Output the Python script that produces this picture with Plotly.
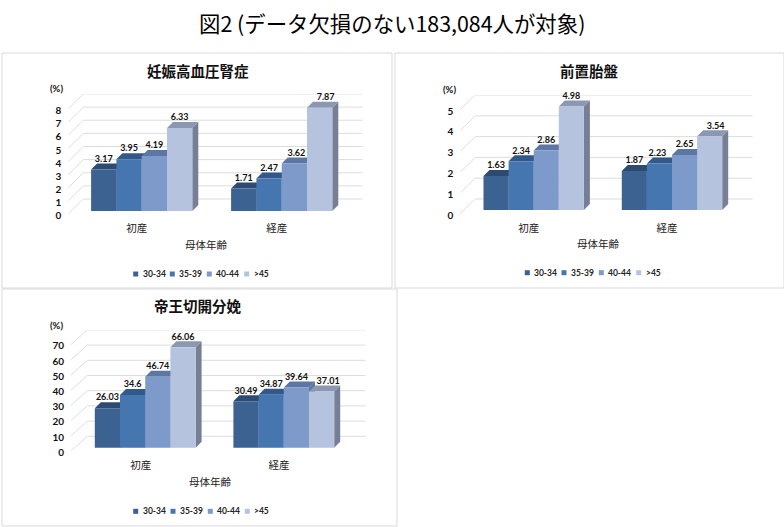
import plotly.graph_objects as go

# ---------- data ----------
categories = ["初産", "経産"]
series_names = ["30-34", "35-39", "40-44", ">45"]
hypertension = [[3.17, 1.71], [3.95, 2.47], [4.19, 3.62], [6.33, 7.87]]
placenta = [[1.63, 1.87], [2.34, 2.23], [2.86, 2.65], [4.98, 3.54]]
cesarean = [[26.03, 30.49], [34.6, 34.87], [46.74, 39.64], [66.06, 37.01]]
hypertension_ticks = [0, 1, 2, 3, 4, 5, 6, 7, 8]
placenta_ticks = [0, 1, 2, 3, 4, 5]
cesarean_ticks = [0, 10, 20, 30, 40, 50, 60, 70]
main_title = "図2 (データ欠損のない183,084人が対象)"
unit_label = "(%)"
axis_label = "母体年齢"

# ---------- style ----------
W, H = 784, 527
FRONT = ["#3C6291", "#4676B0", "#7D9ACB", "#B5C3DE"]
TOP = ["#2C4A72", "#33598A", "#5C77A3", "#8C98B2"]
SIDE = ["#2F4C70", "#365C8A", "#5F77A0", "#767F96"]
GRID = "#DDDDDD"
FRAME = "#D9D9D9"
SANS = "Lato, 'Noto Sans CJK JP'"
CJK = "'Noto Sans CJK JP'"

panels = [
    dict(title="妊娠高血圧腎症", values=hypertension, ticks=hypertension_ticks,
         left=68.3, right=362.7, y0=215.7, unit=13.13, back=16.7, corner=1.7, base=4.7,
         wall=15.0, g0=141.7, g1=281.7, bw=25.3, depth=6.0,
         title_xy=(198, 70), unit_xy=(56.7, 88.3), axis_xy=(206.7, 244.3),
         cat_px=(136.7, 276.7), legend_x=(135.7, 172.3, 209.3, 246.7), legend_y=274,
         shifts=(0, 0, 0, 0, 0, 2, 0, 6), frame=(2, 53, 392, 288)),
    dict(title="前置胎盤", values=placenta, ticks=placenta_ticks,
         left=460.3, right=752.7, y0=215.0, unit=20.8, back=16.0, corner=1.3, base=5.0,
         wall=15.0, g0=533.7, g1=672.0, bw=25.1, depth=6.0,
         title_xy=(589.3, 70), unit_xy=(449, 89), axis_xy=(598, 243.7),
         cat_px=(528.7, 667), legend_x=(527.3, 564, 601.3, 638.7), legend_y=272.7,
         shifts=(0, 0, 0, -2, 0, 0, 0, 6), frame=(395, 53, 784, 288)),
    dict(title="帝王切開分娩", values=cesarean, ticks=cesarean_ticks,
         left=71.0, right=365.7, y0=452.3, unit=1.52, back=16.0, corner=1.3, base=4.6,
         wall=16.3, g0=145.2, g1=283.8, bw=25.2, depth=6.0,
         title_xy=(198, 305.7), unit_xy=(56, 325), axis_xy=(210, 481.3),
         cat_px=(140.7, 279), legend_x=(135.7, 173, 210.3, 247.3), legend_y=511.3,
         shifts=(0, 0, 0, 0, 0, 0, 0, 6.5), frame=(2, 289, 397, 526)),
]

fig = go.Figure()
layout = dict(
    width=W, height=H, autosize=False,
    margin=dict(l=0, r=0, t=0, b=0, pad=0, autoexpand=False),
    paper_bgcolor="white", plot_bgcolor="rgba(0,0,0,0)", showlegend=False,
    shapes=[], annotations=[],
)


def note(text, x, y, size, family=CJK, color="#111111", bold=False, xanchor="center"):
    layout["annotations"].append(dict(
        text=f"<b>{text}</b>" if bold else text, x=x / W, y=1 - y / H,
        xref="paper", yref="paper", xanchor=xanchor, yanchor="middle",
        showarrow=False, font=dict(family=family, size=size, color=color),
    ))


note(main_title, 392, 22, 21.4, color="#000000")

for i, p in enumerate(panels):
    suffix = "" if i == 0 else str(i + 1)
    xa, ya = f"x{suffix}", f"y{suffix}"
    spacing = p["g1"] - p["g0"]
    top_value = p["ticks"][-1] + p["back"] / p["unit"]
    plot_top = p["y0"] - top_value * p["unit"]

    to_x = lambda px: (px - p["g0"]) / spacing
    px2x = 1 / spacing
    px2y = 1 / p["unit"]

    layout[f"xaxis{suffix}"] = dict(
        domain=[p["left"] / W, p["right"] / W],
        range=[to_x(p["left"]), to_x(p["right"])],
        tickmode="array", tickvals=[to_x(c) for c in p["cat_px"]], ticktext=categories,
        tickfont=dict(family=CJK, size=10.5, color="#222222"),
        showgrid=False, zeroline=False, showline=False, ticks="", ticklabelstandoff=5,
        fixedrange=True, anchor=ya,
    )
    layout[f"yaxis{suffix}"] = dict(
        domain=[1 - p["y0"] / H, 1 - plot_top / H],
        range=[0, top_value],
        tickmode="array", tickvals=p["ticks"], ticktext=[str(t) for t in p["ticks"]],
        tickfont=dict(family=SANS, size=10, color="#111111", weight="bold"),
        showgrid=False, zeroline=False, showline=False, ticks="", ticklabelstandoff=6,
        fixedrange=True, anchor=xa,
    )

    # back wall grid and the oblique lines of the left wall
    gx, gy = [], []
    wall_left = to_x(p["left"])
    wall_back = to_x(p["left"] + p["wall"])
    wall_right = to_x(p["right"])
    for t in p["ticks"]:
        tv = t * 1.0
        gx += [wall_left, wall_back, wall_right, None]
        gy += [tv + p["corner"] * px2y, tv + p["back"] * px2y, tv + p["back"] * px2y, None]
    fig.add_trace(go.Scatter(x=gx, y=gy, mode="lines", line=dict(color=GRID, width=1),
                             hoverinfo="skip", xaxis=xa, yaxis=ya))

    # 3-D bars, painted left to right so that each bar hides its neighbour's side
    bw = p["bw"] * px2x
    dx = p["depth"] * px2x
    dy = p["depth"] * px2y
    b = p["base"] * px2y
    lx, ly, lt = [], [], []
    for s, name in enumerate(series_names):
        fx, fy, tx, ty, sx, sy = [], [], [], [], [], []
        for g, v in enumerate(p["values"][s]):
            x0 = g + (s - 2) * bw
            x1 = x0 + bw
            yt = v + b
            fx += [x0, x1, x1, x0, x0, None]
            fy += [b, b, yt, yt, b, None]
            tx += [x0, x1, x1 + dx, x0 + dx, x0, None]
            ty += [yt, yt, yt + dy, yt + dy, yt, None]
            sx += [x1, x1 + dx, x1 + dx, x1, x1, None]
            sy += [b, b + dy, yt + dy, yt, b, None]
            lx.append((x0 + x1) / 2 + p["shifts"][s * 2 + g] * px2x)
            ly.append(yt + dy + 4 * px2y)
            lt.append(str(v))
        for xs, ys, col in ((sx, sy, SIDE[s]), (tx, ty, TOP[s]), (fx, fy, FRONT[s])):
            fig.add_trace(go.Scatter(
                x=xs, y=ys, mode="lines", fill="toself", fillcolor=col,
                line=dict(width=0, color=col), name=name, hoverinfo="skip",
                xaxis=xa, yaxis=ya))

    fig.add_trace(go.Scatter(
        x=lx, y=ly, mode="text", text=lt, textposition="middle center", cliponaxis=False,
        textfont=dict(family=SANS, size=9, color="#111111", weight="bold"),
        hoverinfo="skip", xaxis=xa, yaxis=ya))

    # frame, headings and legend
    x0, y0, x1, y1 = p["frame"]
    layout["shapes"].append(dict(
        type="rect", xref="paper", yref="paper", x0=x0 / W, x1=x1 / W,
        y0=1 - y0 / H, y1=1 - y1 / H, line=dict(color=FRAME, width=1), layer="below"))
    note(p["title"], *p["title_xy"], 14.5, bold=True)
    note(unit_label, *p["unit_xy"], 9.5, family=SANS, bold=True)
    note(axis_label, *p["axis_xy"], 10.5, color="#222222")
    for s, name in enumerate(series_names):
        mx, my = p["legend_x"][s], p["legend_y"]
        layout["shapes"].append(dict(
            type="rect", xref="paper", yref="paper",
            x0=(mx - 2.5) / W, x1=(mx + 2.5) / W,
            y0=1 - (my - 2.5) / H, y1=1 - (my + 2.5) / H,
            fillcolor=FRONT[s], line=dict(width=0)))
        note(name, mx + 5, my, 8.5, family=SANS, color="#222222", bold=True, xanchor="left")

fig.update_layout(**layout)
fig.write_html(
    "out.html",
    config=dict(displayModeBar=False),
    post_script="document.body.style.margin='0';document.body.style.overflow='hidden';",
)
